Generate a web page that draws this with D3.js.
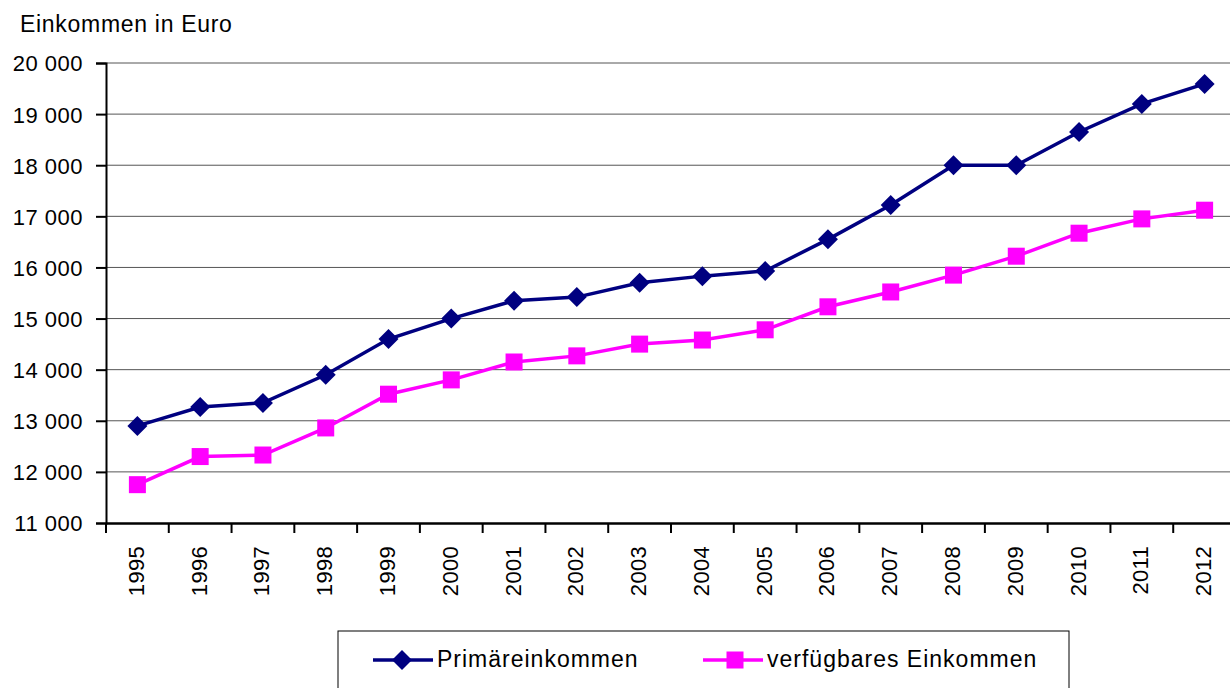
<!DOCTYPE html>
<html>
<head>
<meta charset="utf-8">
<script src="https://cdn.jsdelivr.net/npm/d3@7"></script>
<style>
  body { margin: 0; background: #fff; }
  svg { display: block; font-family: "Liberation Sans", Arial, sans-serif; }
</style>
</head>
<body>
<svg id="chart" width="1230" height="688"></svg>
<script>
// data
const years = ["1995","1996","1997","1998","1999","2000","2001","2002","2003","2004","2005","2006","2007","2008","2009","2010","2011","2012"];
const primaer = [12900, 13270, 13350, 13900, 14600, 15000, 15350, 15420, 15700, 15830, 15930, 16550, 17220, 18000, 18000, 18650, 19200, 19590];
const verfuegbar = [11750, 12300, 12330, 12860, 13520, 13800, 14150, 14270, 14500, 14580, 14780, 15230, 15520, 15850, 16220, 16670, 16950, 17120];
const yTicks = [11000, 12000, 13000, 14000, 15000, 16000, 17000, 18000, 19000, 20000];
const seriesNames = ["Primäreinkommen", "verfügbares Einkommen"];

const svg = d3.select("#chart");

const x = d3.scaleBand().domain(years).range([106, 1236]);
const y = d3.scaleLinear().domain([11000, 20000]).range([523, 63]);

const fmt = v => d3.format(",")(v).replace(",", " ");

// title
svg.append("text")
  .attr("x", 20).attr("y", 32)
  .style("font-size", "23px")
  .style("letter-spacing", "0.7px")
  .text("Einkommen in Euro");

// gridlines
svg.append("g")
  .selectAll("line")
  .data(yTicks.slice(1))
  .join("line")
  .attr("x1", 106).attr("x2", 1230)
  .attr("y1", d => y(d)).attr("y2", d => y(d))
  .attr("stroke", "#555").attr("stroke-width", 1);

// y axis
const yAxis = svg.append("g")
  .attr("transform", "translate(106,0)")
  .call(d3.axisLeft(y).tickValues(yTicks).tickFormat(fmt).tickSize(10).tickPadding(13));
yAxis.select(".domain").attr("stroke", "#000").attr("stroke-width", 2);
yAxis.selectAll(".tick line").attr("stroke", "#000").attr("stroke-width", 2);
yAxis.selectAll(".tick text")
  .attr("fill", "#000")
  .attr("dy", "0.36em")
  .style("font-size", "22px")
  .style("letter-spacing", "0.5px")
  .style("font-family", "'Liberation Sans', Arial, sans-serif");

// x axis
const xAxis = svg.append("g")
  .attr("transform", "translate(0,523)")
  .call(d3.axisBottom(x).tickSize(0).tickFormat(""));
xAxis.select(".domain").attr("stroke", "#000").attr("stroke-width", 2.5);

// category boundary ticks
svg.append("g")
  .selectAll("line")
  .data(years)
  .join("line")
  .attr("x1", d => x(d)).attr("x2", d => x(d))
  .attr("y1", 523).attr("y2", 533)
  .attr("stroke", "#000").attr("stroke-width", 2);

// year labels
svg.append("g")
  .selectAll("text")
  .data(years)
  .join("text")
  .attr("transform", d => `translate(${x(d) + x.bandwidth() / 2 + 6.5},546) rotate(-90)`)
  .attr("text-anchor", "end")
  .style("font-size", "22px")
  .style("letter-spacing", "0.3px")
  .text(d => d);

const cx = d => x(d) + x.bandwidth() / 2;
const line = d3.line().x((d, i) => cx(years[i])).y(d => y(d));

// verfügbares Einkommen
svg.append("path")
  .datum(verfuegbar)
  .attr("d", line)
  .attr("fill", "none").attr("stroke", "#ff00ff").attr("stroke-width", 3.5);
svg.append("g")
  .selectAll("rect")
  .data(verfuegbar)
  .join("rect")
  .attr("x", (d, i) => cx(years[i]) - 8.5)
  .attr("y", d => y(d) - 8.5)
  .attr("width", 17).attr("height", 17)
  .attr("fill", "#ff00ff");

// Primäreinkommen
svg.append("path")
  .datum(primaer)
  .attr("d", line)
  .attr("fill", "none").attr("stroke", "#000080").attr("stroke-width", 3.5);
const diamond = "M0,-10L10,0L0,10L-10,0Z";
svg.append("g")
  .selectAll("path")
  .data(primaer)
  .join("path")
  .attr("d", diamond)
  .attr("transform", (d, i) => `translate(${cx(years[i])},${y(d)})`)
  .attr("fill", "#000080");

// legend
const legend = svg.append("g");
legend.append("rect")
  .attr("x", 338).attr("y", 631).attr("width", 731).attr("height", 70)
  .attr("fill", "#fff").attr("stroke", "#000").attr("stroke-width", 1);

const legendItems = [
  { name: seriesNames[0], color: "#000080", x0: 373, marker: "diamond" },
  { name: seriesNames[1], color: "#ff00ff", x0: 703, marker: "square" }
];
legendItems.forEach(it => {
  const g = legend.append("g");
  g.append("line")
    .attr("x1", it.x0).attr("x2", it.x0 + 60)
    .attr("y1", 660).attr("y2", 660)
    .attr("stroke", it.color).attr("stroke-width", 3.5);
  if (it.marker === "diamond") {
    g.append("path").attr("d", diamond)
      .attr("transform", `translate(${it.x0 + 29},660)`)
      .attr("fill", it.color);
  } else {
    g.append("rect")
      .attr("x", it.x0 + 32 - 8.5).attr("y", 660 - 8.5)
      .attr("width", 17).attr("height", 17)
      .attr("fill", it.color);
  }
  g.append("text")
    .attr("x", it.x0 + 64).attr("y", 667)
    .style("font-size", "23px")
    .style("letter-spacing", "1px")
    .text(it.name);
});
</script>
</body>
</html>
